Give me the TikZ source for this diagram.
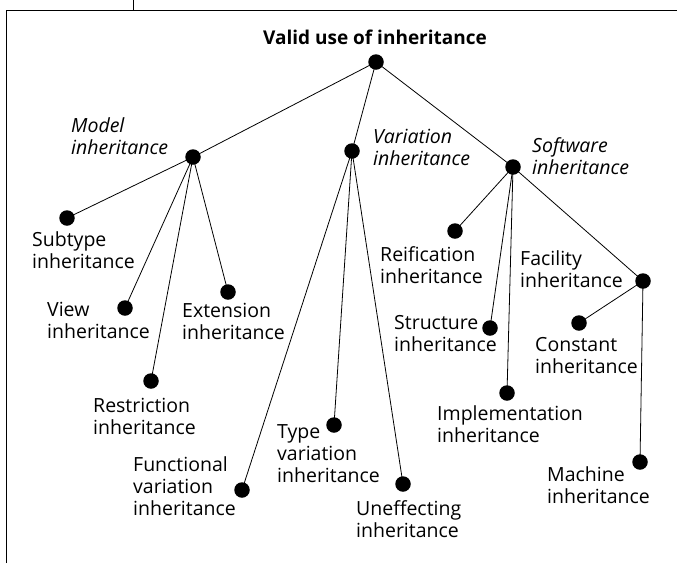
\documentclass[tikz,border=0pt]{standalone}
\usepackage{fontspec}
\setmainfont{Open Sans}
\begin{document}
\begin{tikzpicture}[x=1pt,y=-1pt,
 dot/.style={circle,fill=black,inner sep=0pt,minimum size=15.5pt},
 lbl/.style={align=left,inner sep=0pt,anchor=west,font=\fontsize{19.5}{22}\selectfont},
 ilbl/.style={lbl,font=\fontsize{19.5}{22}\selectfont\itshape},
 edge/.style={line width=0.8pt},
 frame/.style={line width=0.9pt}]
\useasboundingbox (0,0) rectangle (677,563);
% frame
\coordinate (fb) at (6,563);
\coordinate (fc) at (6,10);
\coordinate (fr) at (677,10);
\coordinate (tt) at (133,0);
\coordinate (tb) at (133,10);
\draw[frame] (fb) -- (fc) -- (fr);
\draw[frame] (tt) -- (tb);
% title
\node[font=\fontsize{19}{22}\selectfont\bfseries] (title) at (375,37) {Valid use of inheritance};
% dots
\node[dot] (root) at (376,62) {};
\node[dot] (model) at (193,157) {};
\node[dot] (var) at (352,151) {};
\node[dot] (soft) at (513,167) {};
\node[dot] (sub) at (67,218) {};
\node[dot] (view) at (125,308) {};
\node[dot] (ext) at (228,292) {};
\node[dot] (res) at (151,381) {};
\node[dot] (fun) at (242,490) {};
\node[dot] (typ) at (334,425) {};
\node[dot] (une) at (403,484) {};
\node[dot] (rei) at (455,231) {};
\node[dot] (str) at (490,328) {};
\node[dot] (imp) at (507,393) {};
\node[dot] (fac) at (643,281) {};
\node[dot] (con) at (579,323) {};
\node[dot] (mac) at (640,462) {};
% edges
\draw[edge] (root.center) -- (model.center);
\draw[edge] (root.center) -- (var.center);
\draw[edge] (root.center) -- (soft.center);
\draw[edge] (model.center) -- (sub.center);
\draw[edge] (model.center) -- (view.center);
\draw[edge] (model.center) -- (res.center);
\draw[edge] (model.center) -- (ext.center);
\draw[edge] (var.center) -- (fun.center);
\draw[edge] (var.center) -- (typ.center);
\draw[edge] (var.center) -- (une.center);
\draw[edge] (soft.center) -- (rei.center);
\draw[edge] (soft.center) -- (str.center);
\draw[edge] (soft.center) -- (imp.center);
\draw[edge] (soft.center) -- (fac.center);
\draw[edge] (fac.center) -- (con.center);
\draw[edge] (fac.center) -- (mac.center);
% labels
\node[ilbl] (lmodel) at (71,136) {Model\\inheritance};
\node[ilbl] (lvar) at (373,147) {Variation\\inheritance};
\node[ilbl] (lsoft) at (532,156) {Software\\inheritance};
\node[lbl] (lsub) at (32,250) {Subtype\\inheritance};
\node[lbl] (lview) at (47,320) {View\\inheritance};
\node[lbl] (lext) at (182,321) {Extension\\inheritance};
\node[lbl] (lres) at (93,416) {Restriction\\inheritance};
\node[lbl] (lfun) at (133,486) {Functional\\variation\\inheritance};
\node[lbl] (ltyp) at (277,454) {Type\\variation\\inheritance};
\node[lbl] (lune) at (356,519) {Uneffecting\\inheritance};
\node[lbl] (lrei) at (380,265) {Reification\\inheritance};
\node[lbl] (lfac) at (520,269) {Facility\\inheritance};
\node[lbl] (lstr) at (394,334) {Structure\\inheritance};
\node[lbl] (lcon) at (535,356) {Constant\\inheritance};
\node[lbl] (limp) at (437,424) {Implementation\\inheritance};
\node[lbl] (lmac) at (547,485) {Machine\\inheritance};
\end{tikzpicture}
\end{document}
